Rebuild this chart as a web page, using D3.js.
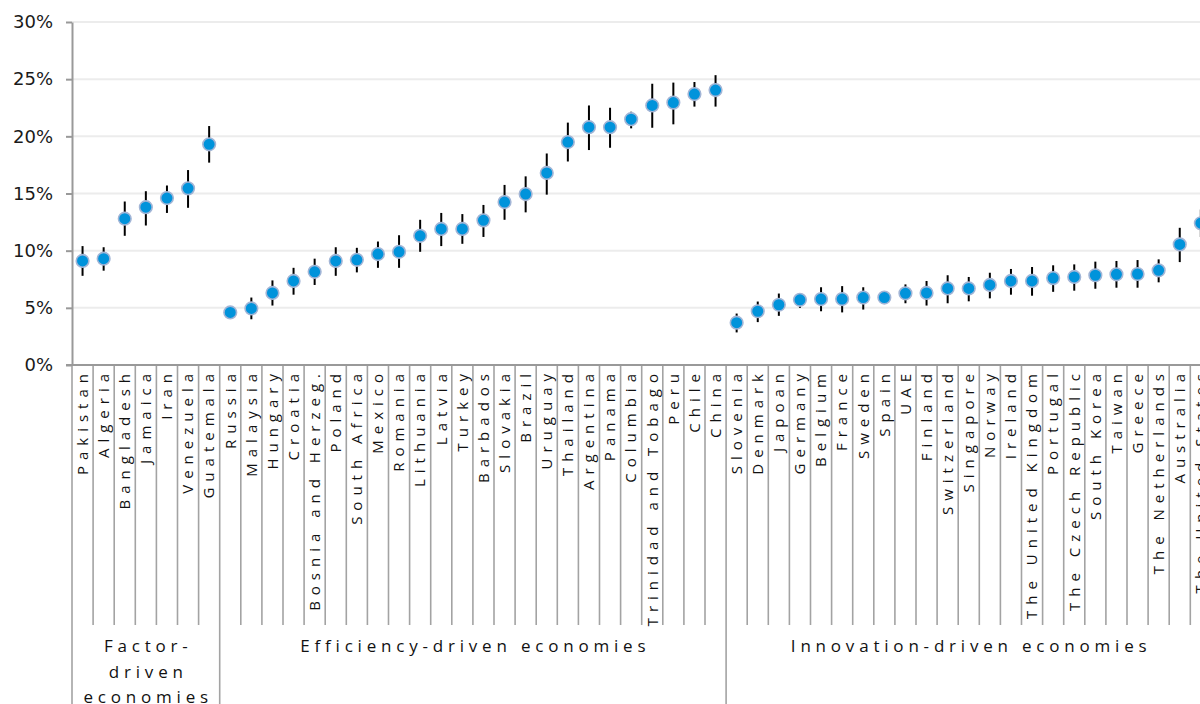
<!DOCTYPE html>
<html>
<head>
<meta charset="utf-8">
<script src="https://cdn.jsdelivr.net/npm/d3@7/dist/d3.min.js"></script>
<style>
  html, body { margin: 0; padding: 0; background: #fff; overflow: hidden; }
  svg { display: block; }
</style>
</head>
<body>
<svg id="chart" width="1200" height="704"></svg>
<script>
// Countries, in plotting order
const countries = [
  "Pakistan", "Algeria", "Bangladesh", "Jamaica", "Iran", "Venezuela", "Guatemala",
  "Russia", "Malaysia", "Hungary", "Croatia", "Bosnia and Herzeg.", "Poland", "South Africa",
  "Mexico", "Romania", "Lithuania", "Latvia", "Turkey", "Barbados", "Slovakia", "Brazil",
  "Uruguay", "Thailand", "Argentina", "Panama", "Columbia", "Trinidad and Tobago", "Peru",
  "Chile", "China",
  "Slovenia", "Denmark", "Japoan", "Germany", "Belgium", "France", "Sweden", "Spain", "UAE",
  "Finland", "Switzerland", "Singapore", "Norway", "Ireland", "The United Kingdom", "Portugal",
  "The Czech Republic", "South Korea", "Taiwan", "Greece", "The Netherlands", "Australia",
  "The United States"
];

// Estimated rate (%) per country
const rate = [
  9.1, 9.3, 12.8, 13.8, 14.6, 15.45, 19.3,
  4.6, 4.95, 6.3, 7.35, 8.15, 9.1, 9.2,
  9.7, 9.9, 11.3, 11.9, 11.9, 12.65, 14.25, 14.95,
  16.8, 19.5, 20.8, 20.8, 21.5, 22.7, 22.95,
  23.7, 24.05,
  3.7, 4.7, 5.27, 5.7, 5.77, 5.77, 5.9, 5.9, 6.27,
  6.3, 6.7, 6.7, 7.0, 7.35, 7.35, 7.6,
  7.7, 7.85, 7.93, 7.96, 8.28, 10.55,
  12.4
];

// Lower bound of the confidence interval (%)
const lower = [
  7.8, 8.25, 11.3, 12.2, 13.3, 13.75, 17.7,
  4.4, 4.0, 5.2, 6.15, 7.0, 7.8, 8.1,
  8.5, 8.5, 9.9, 10.4, 10.6, 11.2, 12.7, 13.35,
  14.9, 17.8, 18.8, 19.0, 20.7, 20.75, 21.05,
  22.6, 22.6,
  2.85, 3.75, 4.3, 5.0, 4.7, 4.6, 4.85, 5.6, 5.4,
  5.2, 5.4, 5.57, 5.83, 6.15, 6.06, 6.4,
  6.5, 6.67, 6.76, 6.76, 7.23, 9.0,
  11.2
];

// Upper bound of the confidence interval (%)
const upper = [
  10.4, 10.3, 14.3, 15.2, 15.7, 17.05, 20.9,
  4.8, 5.9, 7.4, 8.5, 9.3, 10.3, 10.25,
  10.8, 11.35, 12.7, 13.3, 13.2, 14.0, 15.75, 16.5,
  18.5, 21.2, 22.7, 22.5, 22.15, 24.6, 24.7,
  24.75, 25.35,
  4.5, 5.55, 6.25, 6.3, 6.8, 6.9, 6.8, 6.2, 7.05,
  7.35, 7.85, 7.7, 8.07, 8.4, 8.57, 8.72,
  8.8, 9.04, 9.1, 9.18, 9.24, 12.0,
  13.6
];

// Economy groups: number of countries and the wrapped label lines
const groupSizes = [7, 24, 23];
const groupLabels = [
  ["Factor-", "driven", "economies"],
  ["Efficiency-driven economies"],
  ["Innovation-driven economies"]
];

// Y-axis ticks (%)
const yTicks = [0, 5, 10, 15, 20, 25, 30];

const svg = d3.select("#chart");

const plotLeft = 72, plotTop = 22, plotBottom = 365;
const bandW = 21.1;
const plotRight = plotLeft + countries.length * bandW;
const sepBottom = 625, groupSepBottom = 704;

const x = d3.scaleBand()
  .domain(countries)
  .range([plotLeft, plotRight])
  .padding(0);

const y = d3.scaleLinear()
  .domain([0, 30])
  .range([plotBottom, plotTop]);

// Horizontal gridlines
svg.append("g")
  .selectAll("line")
  .data(yTicks.filter(d => d > 0))
  .join("line")
  .attr("x1", plotLeft)
  .attr("x2", plotRight)
  .attr("y1", d => y(d))
  .attr("y2", d => y(d))
  .attr("stroke", "#ececec")
  .attr("stroke-width", 2);

// Y axis
const yAxis = svg.append("g")
  .attr("transform", `translate(${plotLeft},0)`)
  .call(d3.axisLeft(y)
    .tickValues(yTicks)
    .tickFormat(d => d + "%")
    .tickSize(6)
    .tickSizeOuter(0)
    .tickPadding(13));
yAxis.select(".domain").attr("stroke", "#999").attr("stroke-width", 2);
yAxis.selectAll(".tick line").attr("stroke", "#999").attr("stroke-width", 2);
yAxis.selectAll(".tick text")
  .attr("fill", "#1a1a1a")
  .style("font-family", "'DejaVu Sans', Verdana, sans-serif")
  .style("font-size", "18px");

// Category separators below the axis
const boundaries = d3.range(countries.length + 1);
const groupStarts = [0];
groupSizes.forEach((n, i) => groupStarts.push(groupStarts[i] + n));

svg.append("g")
  .selectAll("line")
  .data(boundaries)
  .join("line")
  .attr("x1", i => plotLeft + i * x.bandwidth())
  .attr("x2", i => plotLeft + i * x.bandwidth())
  .attr("y1", plotBottom)
  .attr("y2", i => groupStarts.includes(i) ? groupSepBottom : sepBottom)
  .attr("stroke", "#a3a3a3")
  .attr("stroke-width", 1.6);

// X axis baseline
svg.append("line")
  .attr("x1", plotLeft - 6)
  .attr("x2", plotRight)
  .attr("y1", plotBottom)
  .attr("y2", plotBottom)
  .attr("stroke", "#999")
  .attr("stroke-width", 2);

// Country labels, rotated
svg.append("g")
  .selectAll("text")
  .data(countries)
  .join("text")
  .attr("transform", d => `translate(${x(d) + x.bandwidth() / 2},368) rotate(-90)`)
  .attr("dy", "0.35em")
  .attr("text-anchor", "end")
  .attr("fill", "#111")
  .style("font-family", "'Open Sans', sans-serif")
  .style("font-size", "15px")
  .style("letter-spacing", "6px")
  .text(d => d);

// Group labels
const groupG = svg.append("g");
groupSizes.forEach((n, gi) => {
  const cx = plotLeft + (groupStarts[gi] + n / 2) * x.bandwidth();
  const t = groupG.append("text")
    .attr("text-anchor", "middle")
    .attr("fill", "#111")
    .style("font-family", "'Open Sans', sans-serif")
    .style("font-size", "17px")
    .style("letter-spacing", "4.8px");
  groupLabels[gi].forEach((line, li) => {
    t.append("tspan")
      .attr("x", cx + 2.4)
      .attr("y", 652 + li * 25.5)
      .text(line);
  });
});

// Confidence intervals
svg.append("g")
  .selectAll("line")
  .data(countries)
  .join("line")
  .attr("x1", d => x(d) + x.bandwidth() / 2)
  .attr("x2", d => x(d) + x.bandwidth() / 2)
  .attr("y1", (d, i) => y(lower[i]))
  .attr("y2", (d, i) => y(upper[i]))
  .attr("stroke", "#000")
  .attr("stroke-width", 2);

// Point estimates
svg.append("g")
  .selectAll("circle")
  .data(countries)
  .join("circle")
  .attr("cx", d => x(d) + x.bandwidth() / 2)
  .attr("cy", (d, i) => y(rate[i]))
  .attr("r", 6.3)
  .attr("fill", "#0093db")
  .attr("stroke", "#a2b5d6")
  .attr("stroke-width", 1.6);
</script>
</body>
</html>
